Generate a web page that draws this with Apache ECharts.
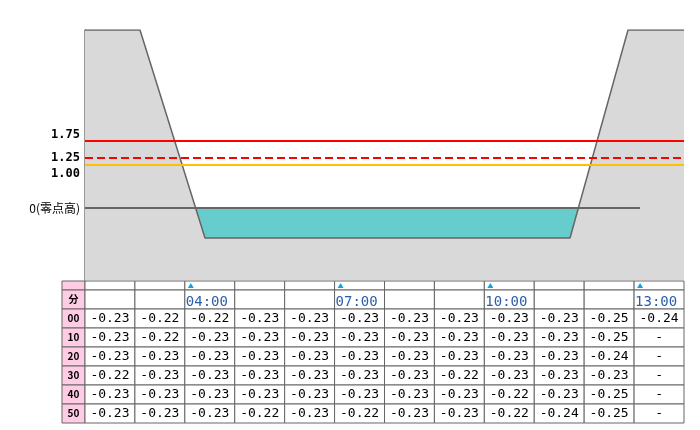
<!DOCTYPE html>
<html><head><meta charset="utf-8">
<script src="https://cdn.jsdelivr.net/npm/echarts@6/dist/echarts.min.js"></script>
<style>body{margin:0;background:#fff}#c{width:700px;height:430px}</style>
</head><body><div id="c"></div>
<script>
// cross section (x: distance, y: height in m)
var groundX = [0, 55, 120, 485, 543, 599];
var groundY = [4.45, 4.45, -0.75, -0.75, 4.45, 4.45];
var waterX = [0, 599];
var waterLevel = 0;
var levelValues = [1.68, 1.25, 1.08];
var levelLabels = ['1.75', '1.25', '1.00'];
var levelColors = ['#ff0000', '#ff0000', '#ffc000'];
var levelTypes = ['solid', 'dashed', 'solid'];

// table
var colHeaders = ['', '', '04:00', '', '', '07:00', '', '', '10:00', '', '', '13:00'];
var rowLabels = ['00', '10', '20', '30', '40', '50'];
var tableValues = [
  ['-0.23','-0.22','-0.22','-0.23','-0.23','-0.23','-0.23','-0.23','-0.23','-0.23','-0.25','-0.24'],
  ['-0.23','-0.22','-0.23','-0.23','-0.23','-0.23','-0.23','-0.23','-0.23','-0.23','-0.25','-'],
  ['-0.23','-0.23','-0.23','-0.23','-0.23','-0.23','-0.23','-0.23','-0.23','-0.23','-0.24','-'],
  ['-0.22','-0.23','-0.23','-0.23','-0.23','-0.23','-0.23','-0.22','-0.23','-0.23','-0.23','-'],
  ['-0.23','-0.23','-0.23','-0.23','-0.23','-0.23','-0.23','-0.23','-0.22','-0.23','-0.25','-'],
  ['-0.23','-0.23','-0.23','-0.22','-0.23','-0.22','-0.23','-0.23','-0.22','-0.24','-0.25','-']
];

var chart = echarts.init(document.getElementById('c'));

// table geometry (in table axis units)
var labW = 23, colW = 599 / 12, tickH = 9, rowH = 19;
function colX(i) { return i < 0 ? 0 : labW + i * colW; }
function rowY(r) { return r === 0 ? 0 : tickH + (r - 1) * rowH; }
var cells = [];
for (var r = 0; r < 8; r++) for (var c = -1; c < 12; c++) cells.push([c, r]);

var levelLines = levelValues.map(function (v, i) {
  return {
    yAxis: v,
    lineStyle: { color: levelColors[i], type: levelTypes[i], width: 2 },
    label: { show: true, position: 'start', formatter: levelLabels[i], color: '#000',
      fontWeight: 'bold', fontSize: 12, fontFamily: 'DejaVu Sans Mono',
      offset: [0, i === 0 ? -6 : (i === 2 ? 9 : 0)] }
  };
});

chart.setOption({
  animation: false,
  grid: [
    { left: 85, top: 30, width: 599, height: 250 },
    { left: 62, top: 281, width: 622, height: 142 }
  ],
  xAxis: [
    { gridIndex: 0, type: 'value', min: 0, max: 599, show: false },
    { gridIndex: 1, type: 'value', min: 0, max: labW + 599, show: false }
  ],
  yAxis: [
    { gridIndex: 0, type: 'value', min: -1.8, max: 4.45, show: true,
      axisLine: { show: true, lineStyle: { color: '#777', width: 1.5 } },
      axisTick: { show: false }, axisLabel: { show: false }, splitLine: { show: false } },
    { gridIndex: 1, type: 'value', min: 0, max: tickH + 7 * rowH, inverse: true, show: false }
  ],
  series: [
    {
      type: 'line', xAxisIndex: 0, yAxisIndex: 0, z: 1, symbol: 'none',
      data: waterX.map(function (x) { return [x, waterLevel]; }),
      lineStyle: { width: 0 },
      areaStyle: { color: '#66cccc', opacity: 1, origin: 'start' }
    },
    {
      type: 'line', xAxisIndex: 0, yAxisIndex: 0, z: 2, symbol: 'none',
      data: groundX.map(function (x, i) { return [x, groundY[i]]; }),
      lineStyle: { color: '#666', width: 1.5 },
      areaStyle: { color: '#d9d9d9', opacity: 1, origin: 'start' }
    },
    {
      type: 'line', xAxisIndex: 0, yAxisIndex: 0, z: 3, symbol: 'none', data: [],
      markLine: {
        silent: true, symbol: 'none', animation: false,
        data: levelLines.concat([{
          yAxis: 0, lineStyle: { color: 'rgba(0,0,0,0)', width: 1 },
          label: { show: true, position: 'start', formatter: '0(零点高)', color: '#000',
            fontSize: 12, fontFamily: 'Noto Sans CJK JP' }
        }])
      }
    },
    {
      type: 'line', xAxisIndex: 0, yAxisIndex: 0, z: 3, symbol: 'none',
      data: [[0, 0], [555, 0]], lineStyle: { color: '#666', width: 2 }
    },
    {
      type: 'custom', xAxisIndex: 1, yAxisIndex: 1, z: 5,
      data: cells,
      renderItem: function (params, api) {
        var c = api.value(0), r = api.value(1);
        var x0 = colX(c), x1 = c < 0 ? labW : colX(c + 1);
        var y0 = rowY(r), y1 = rowY(r + 1);
        var p0 = api.coord([x0, y0]), p1 = api.coord([x1, y1]);
        var w = p1[0] - p0[0], h = p1[1] - p0[1];
        var cx = p0[0] + w / 2, cy = p0[1] + h / 2;
        var children = [{
          type: 'rect', shape: { x: p0[0], y: p0[1], width: w, height: h },
          style: { fill: c < 0 ? '#ffcce6' : '#fff', stroke: '#666', lineWidth: 1 }
        }];
        var txt = '', color = '#000', bold = false, font = 'DejaVu Sans Mono', size = 13, align = 'center';
        if (c < 0) {
          if (r === 1) txt = '分';
          else if (r >= 2) txt = rowLabels[r - 2];
          bold = true; size = 10; font = 'Noto Sans CJK JP';
        } else if (r === 0) {
          if (colHeaders[c]) children.push({
            type: 'polygon', shape: { points: [[p0[0] + 3, p1[1] - 2], [p0[0] + 9, p1[1] - 2], [p0[0] + 6, p0[1] + 2]] },
            style: { fill: '#1aa0d8' }
          });
        } else if (r === 1) {
          txt = colHeaders[c]; color = '#2b5fa8'; align = 'left'; size = 14;
        } else {
          txt = tableValues[r - 2][c];
        }
        if (txt) children.push({
          type: 'text',
          style: { text: txt, x: align === 'left' ? p0[0] + 1 : cx, y: cy + (r === 1 && c >= 0 ? 3 : 0),
            align: align, verticalAlign: 'middle', fill: color,
            font: (bold ? 'bold ' : '') + size + 'px "' + font + '"' }
        });
        return { type: 'group', children: children };
      }
    }
  ]
});
</script></body></html>
